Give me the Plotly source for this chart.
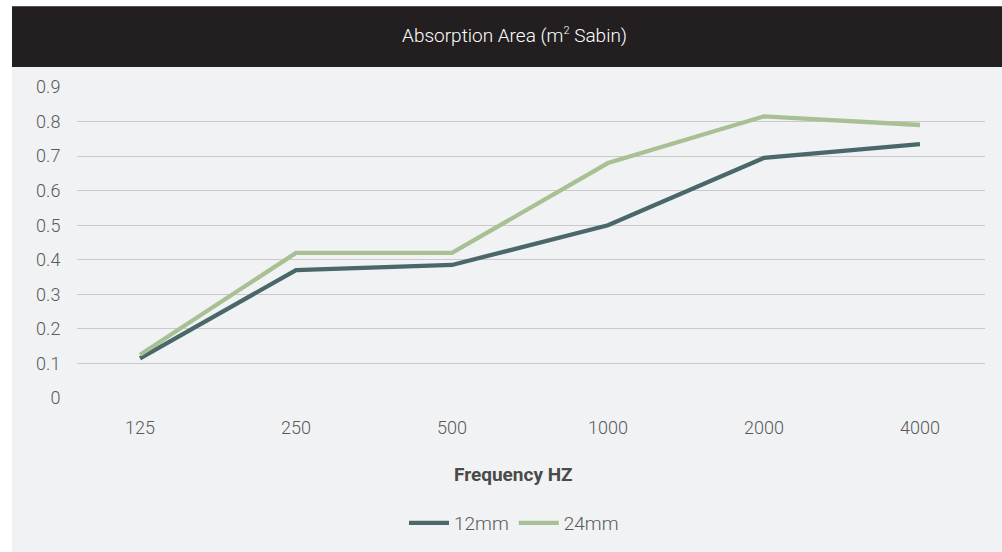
import plotly.graph_objects as go

frequencies = ["125", "250", "500", "1000", "2000", "4000"]
values_12mm = [0.115, 0.37, 0.385, 0.50, 0.695, 0.735]
values_24mm = [0.125, 0.42, 0.42, 0.68, 0.815, 0.79]
y_ticks = [0, 0.1, 0.2, 0.3, 0.4, 0.5, 0.6, 0.7, 0.8, 0.9]
y_tick_labels = ["0", "0.1", "0.2", "0.3", "0.4", "0.5", "0.6", "0.7", "0.8", "0.9"]

W, H = 1002, 552
L, R, T, B = 77, 17, 87, 153
PW, PH = W - L - R, H - T - B

def px_x(p):
    return (p - L) / PW

def px_y(p):
    return (H - B - p) / PH

FONT = "Roboto"
TXT = "#595959"
fig = go.Figure()
fig.add_trace(go.Scatter(x=frequencies, y=values_12mm, mode="lines", name="12mm",
                         line=dict(color="#4a686a", width=4.3)))
fig.add_trace(go.Scatter(x=frequencies, y=values_24mm, mode="lines", name="24mm",
                         line=dict(color="#a8c094", width=4.3)))

fig.update_layout(
    width=W, height=H,
    margin=dict(l=L, r=R, t=T, b=B),
    paper_bgcolor="#f1f2f4",
    plot_bgcolor="rgba(0,0,0,0)",
    font=dict(family=FONT, size=18, color=TXT, weight=300),
    showlegend=True,
    legend=dict(orientation="h", x=px_x(514), xanchor="center", y=px_y(523), yanchor="middle",
                font=dict(family=FONT, size=19, color=TXT, weight=300),
                bgcolor="rgba(0,0,0,0)", itemwidth=40),
    xaxis=dict(type="category", range=[-0.404, 5.417], showgrid=False, zeroline=False,
               showline=False, ticks="outside", ticklen=13, tickcolor="rgba(0,0,0,0)",
               tickfont=dict(family=FONT, size=18, color=TXT, weight=300)),
    yaxis=dict(range=[0, 0.9], tickvals=y_ticks, ticktext=y_tick_labels,
               showgrid=True, gridcolor="#c9c9c9", gridwidth=1.3, zeroline=False,
               showline=False, ticks="outside", ticklen=12, tickcolor="rgba(0,0,0,0)",
               tickfont=dict(family=FONT, size=18, color=TXT, weight=300)),
    shapes=[
        dict(type="rect", xref="paper", yref="paper", layer="below",
             x0=px_x(-5), x1=px_x(12), y0=px_y(560), y1=px_y(-5),
             fillcolor="white", line=dict(width=0)),
        dict(type="rect", xref="paper", yref="paper", layer="below",
             x0=px_x(-5), x1=px_x(1010), y0=px_y(6), y1=px_y(-5),
             fillcolor="white", line=dict(width=0)),
        dict(type="rect", xref="paper", yref="paper", layer="below",
             x0=px_x(12), x1=px_x(1010), y0=px_y(67), y1=px_y(6),
             fillcolor="#231f20", line=dict(width=0)),
    ],
    annotations=[
        dict(text="Absorption Area (m<sup><span style='font-size:11px'>2</span></sup> Sabin)",
             xref="paper", yref="paper",
             x=px_x(514), y=px_y(35), xanchor="center", yanchor="middle", showarrow=False,
             font=dict(family=FONT, size=19, color="white", weight=300)),
        dict(text="<b>Frequency HZ</b>", xref="paper", yref="paper",
             x=px_x(513), y=px_y(476), xanchor="center", yanchor="middle", showarrow=False,
             font=dict(family=FONT, size=19, color="#4a4a4a")),
    ],
)

fig.write_html("out.html", config={"displayModeBar": False},
               post_script="document.body.style.margin='0';document.body.style.padding='0';")
